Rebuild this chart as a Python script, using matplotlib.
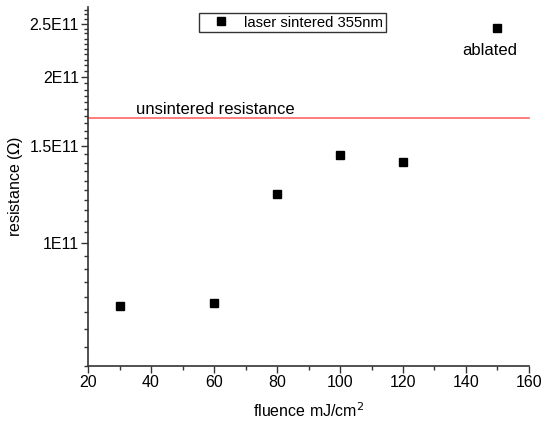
import numpy as np
import matplotlib
matplotlib.use("Agg")
import matplotlib.pyplot as plt
from matplotlib.ticker import FixedLocator, FixedFormatter, NullFormatter

plt.rcParams['font.family'] = ['Liberation Sans', 'DejaVu Sans']

# data
fluence = [30, 60, 80, 100, 120, 150]
resistance = [0.772e11, 0.78e11, 1.23e11, 1.449e11, 1.407e11, 2.457e11]
unsintered = 1.69e11

yTicks = [1e11, 1.5e11, 2e11, 2.5e11]
yTickLabels = ["1E11", "1.5E11", "2E11", "2.5E11"]
xTicks = [20, 40, 60, 80, 100, 120, 140, 160]

fig = plt.figure(figsize=(5.42, 4.24), dpi=100)
ax = fig.add_axes([0.1624, 0.1368, 0.8136, 0.8467])

ax.axhline(unsintered, color="#ff6666", linewidth=1.2, clip_on=False)
ax.plot(fluence, resistance, linestyle="none", marker="s", markersize=5.5,
        color="black", label="laser sintered 355nm")

ax.set_yscale("log")
ax.set_xlim(20, 160)
ax.set_ylim(0.6e11, 2.68e11)

ax.yaxis.set_major_locator(FixedLocator(yTicks))
ax.yaxis.set_major_formatter(FixedFormatter(yTickLabels))
ax.yaxis.set_minor_locator(FixedLocator(np.arange(0.6e11, 2.7e11, 0.05e11)))
ax.yaxis.set_minor_formatter(NullFormatter())

ax.set_xticks(xTicks)
ax.xaxis.set_minor_locator(FixedLocator(np.arange(30, 160, 20)))

for side in ["top", "right"]:
    ax.spines[side].set_visible(False)
for side in ["left", "bottom"]:
    ax.spines[side].set_color("#333333")
    ax.spines[side].set_linewidth(1.2)

ax.tick_params(which="major", direction="out", length=5, width=1, color="#333333",
               labelsize=11.5, pad=1.5)
ax.tick_params(which="minor", direction="out", length=3, width=1, color="#333333")

ax.set_xlabel("fluence mJ/cm$^2$", fontsize=11.5, labelpad=8)
ax.set_ylabel("resistance ($\\Omega$)", fontsize=11.5, labelpad=3)

ax.text(35.2, unsintered * 1.003, "unsintered resistance", fontsize=12,
        ha="left", va="bottom")
ax.text(147.6, 2.24e11, "ablated", fontsize=12, ha="center", va="center")

ax.legend(loc="upper left", bbox_to_anchor=(0.252, 0.982), frameon=True,
          fancybox=False, edgecolor="black", fontsize=10.7, handlelength=2.7,
          borderpad=0.15, handletextpad=0.2, borderaxespad=0)

fig.savefig("out.png", dpi=100)
